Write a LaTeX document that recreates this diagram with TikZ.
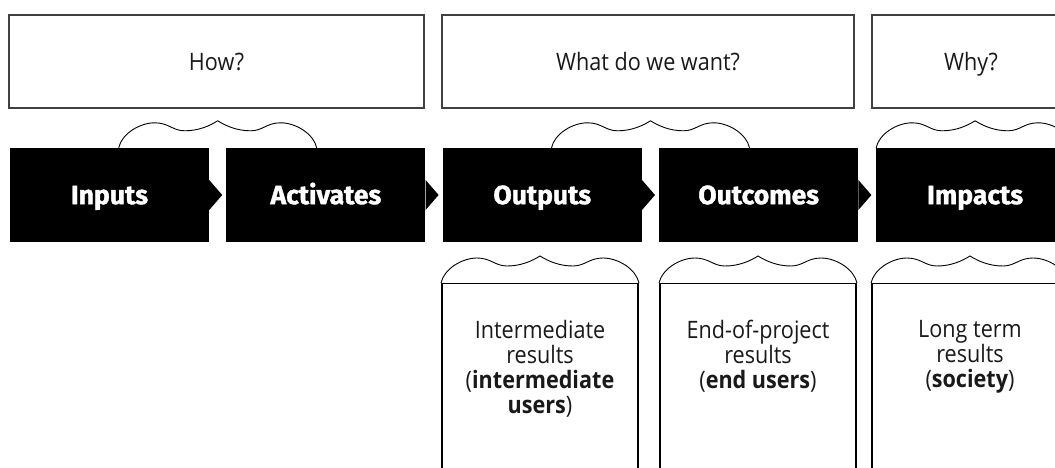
\documentclass[tikz,border=0pt]{standalone}
\usepackage{fontspec}
\setmainfont{Open Sans}[FakeStretch=0.9]
\newfontfamily\stagefont{Fira Sans}[BoldFeatures={FakeBold=1.3}]
\usetikzlibrary{positioning,calc}

\begin{document}
\begin{tikzpicture}[x=1pt,y=-1pt,node distance=17pt,
	askbox/.style={draw=black!75,line width=1.2pt,minimum height=93pt,inner sep=0pt,text height=17.1pt,text depth=0pt,font=\fontsize{24}{25}\selectfont,text=black!90},
	stage/.style={fill=black,text=white,minimum width=199pt,minimum height=94pt,inner sep=0pt,text height=18.3pt,text depth=0pt,font=\stagefont\bfseries\fontsize{26.5}{30}\selectfont},
	resbox/.style={draw,line width=1.1pt,minimum width=196pt,minimum height=240pt,anchor=north},
	restext/.style={anchor=north,inner sep=0pt,align=center,font=\fontsize{24}{25}\selectfont,text=black!90},
	brace/.pic={\draw[line width=0.9pt] (-99,0) .. controls (-96,-14) and (-78,-25) .. (-63,-25)
		.. controls (-49,-25) and (-45,-17) .. (-33,-17) .. controls (-19,-17) and (-8,-22) .. (0,-27)
		.. controls (8,-22) and (19,-17) .. (33,-17) .. controls (45,-17) and (49,-25) .. (63,-25)
		.. controls (78,-25) and (96,-14) .. (99,0);}]
	\useasboundingbox (0,0) rectangle (1055,468);
	\clip (0,0) rectangle (1055,468);
	% questions
	\node[askbox,minimum width=415pt] (how) at (216.5,61.5) {How?};
	\node[askbox,minimum width=412pt] (what) at (648,61.5) {What do we want?};
	\node[askbox,minimum width=198pt] (why) at (971,61.5) {Why?};
	% chain
	\node[stage] (inputs) at (109.5,195) {Inputs};
	\node[stage,right=of inputs] (activates) {Activates};
	\node[stage,right=of activates] (outputs) {Outputs};
	\node[stage,right=of outputs] (outcomes) {Outcomes};
	\node[stage,right=of outcomes] (impacts) {Impacts};
	\foreach \n in {inputs,activates,outputs,outcomes,impacts}
		\fill (\n.east) ++(0,-15) -- ++(13,15) -- ++(-13,15) -- cycle;
	% results
	\node[resbox] (resout) at (540,283) {};
	\node[resbox] (resend) at (758,283) {};
	\node[resbox] (reslong) at (970,283) {};
	\node[restext] (resouttext) at ([yshift=-37pt]resout.north) {Intermediate\\results\\(\textbf{intermediate}\\\textbf{users})};
	\node[restext] (resendtext) at ([yshift=-37pt]resend.north) {End-of-project\\results\\(\textbf{end users})};
	\node[restext] (reslongtext) at ([yshift=-37pt]reslong.north) {Long term\\results\\(\textbf{society})};
	% braces
	\pic at ($(inputs.north)!0.5!(activates.north)$) {brace};
	\pic at ($(outputs.north)!0.5!(outcomes.north)$) {brace};
	\pic at (impacts.north) {brace};
	\pic at (resout.north) {brace};
	\pic at (resend.north) {brace};
	\pic at (reslong.north) {brace};
\end{tikzpicture}
\end{document}
